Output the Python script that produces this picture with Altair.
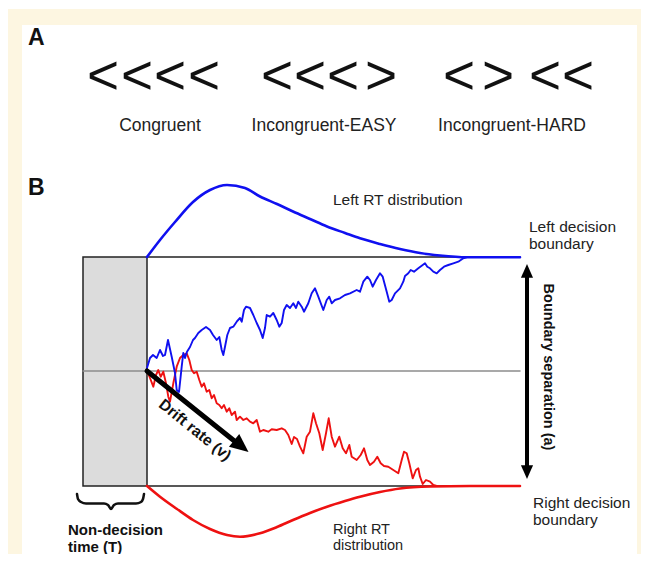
import altair as alt
import pandas as pd

# ---------------- data ----------------
blue_walk_x = [147,150,153,156.7,160,163,165,168,171.7,175,176.7,179,181.7,183.3,185,187,190,193,195,198.3,201.7,206,210,213,216.7,219.3,221.7,223.3,225,227.3,230,233.3,236.7,240,241.7,244,246,250,253.3,256.7,260,262.7,265,266.7,270,273.3,276.7,279.3,281.7,284,286.7,290,293.3,296,298.3,301.7,304,308.3,311.7,315,318.3,323.3,326.7,329.3,331.7,335,340,345,350,356.7,360,363.3,367.3,370,372.7,376,380,382.7,386.7,389.3,391.7,395,400,403.3,405,408.3,410.7,414,418.3,422.7,425,427.3,430,433.3,436.7,440,444,448.3,453.3,458.3,463.3,467]
blue_walk_y = [368,358,355,358,350,356,355,340,356.7,373,390,392,366.7,353,358,351.7,347,340,338,333,330,327,330,335,340,337,350,355,346.7,335,328,326.7,321.7,318,321.7,310,306.7,308,315,323,330,338,328,315,316.7,313,320,326.7,323,310,305,308,303.3,308,301.7,306.7,311.7,303.3,293.3,288.3,296.7,310,300,296.7,303.3,300,298.3,295,293.3,290,291.7,281.7,276.7,280,286.7,280,273.3,276.7,291.7,301.7,300,293.3,288.3,281.7,276,273.3,270,271.7,268.3,265,263.3,266.7,268.3,271.7,273.3,270,266.7,265,263.3,261.7,258.3,257]

red_walk_x = [147,150,153.3,156,158.3,160.7,163.3,166,168.3,170,173.3,176.7,180,183.3,186.7,189.3,191.7,194,196.7,199.3,201.7,204,206.7,209.3,211.7,214,216.7,219.3,221.7,224,226.7,229.3,231.7,235,236.7,240,243.3,246.7,250,253.3,256.7,260,263.3,268.3,271.7,276.7,281.7,285,288.3,291.7,294,297,300,303.3,306.7,310,313.3,316,319.3,322.7,326,328.7,331.7,335,339.3,342.7,346,349.3,351.7,356.7,360.7,364,367.3,370,374,377.3,380.7,384,388.3,393.3,398.3,401.7,404,406.7,409.3,412.7,416,418.3,420,422.7,426,430,433.3,436.7]
red_walk_y = [371,378,386.7,375,370,376.7,371.7,383.3,396.7,401.7,383.3,366.7,358,355,353.3,360,370,373.3,371.7,380,386.7,383.3,391.7,390,398.3,395,403.3,405,408.3,405,411.7,408.3,415,411.7,420,416.7,420,418.3,421.7,423.3,420,431.7,430,431.7,429.3,430,428.3,430,435,444,437,439,446.7,453.3,436.7,431.7,413.3,423.3,433.3,450,433.3,418.3,436.7,446.7,436.7,448.3,453.3,445,456.7,460,455,448.3,460,465,461.7,456.7,463.3,466,466.7,470,473.3,460,451.7,453.3,463.3,478.3,470,468.3,476.7,484,480,481.7,485,486]

left_rt_x = [147,160,175,193,210,227,245,260,277,293,310,327,345,360,380,400,420,440,467,520]
left_rt_y = [257,240,222,202,190,185,188,196.5,204,211.5,219,226.5,233,238.3,244,249,253,255.5,257.3,257.3]

right_rt_x = [147,160,177,193,210,227,240,260,277,293,310,327,345,360,380,400,430,470,520]
right_rt_y = [486,496.7,509,520,529,535,536.7,533.3,527,520,513,506.7,501,496.7,492,488.5,486.5,486,486]

brace_x = [77,78,81,86,104,108,111,114,118,136,141,143,144]
brace_y = [494,499,502,503.5,503.5,505,509,505,503.5,503.5,502,499,494]

chevron_chars = ["<","<","<","<", "<","<","<",">", "<",">","<","<"]
chevron_x = [103,137,170,204, 277,310,343,381, 459,498,545,578]

condition_labels = ["Congruent", "Incongruent-EASY", "Incongruent-HARD"]
condition_x = [160, 324, 512]

# ---------------- helpers ----------------
XS = alt.Scale(domain=[8, 641], nice=False, zero=False)
YS = alt.Scale(domain=[8, 554], reverse=True, nice=False, zero=False)
FONT = "Liberation Sans"


def X(f="x"):
    return alt.X(f"{f}:Q", scale=XS, axis=None)


def Y(f="y"):
    return alt.Y(f"{f}:Q", scale=YS, axis=None)


def line(xs, ys, color, width, interp="linear"):
    df = pd.DataFrame({"x": xs, "y": ys, "i": range(len(xs))})
    return alt.Chart(df).mark_line(color=color, strokeWidth=width, interpolate=interp,
                                   strokeJoin="round", strokeCap="round").encode(
        x=X(), y=Y(), order="i:Q")


def rect(x0, x1, y0, y1, fill, stroke=None, sw=0):
    df = pd.DataFrame({"x": [x0], "x2": [x1], "y": [y0], "y2": [y1]})
    kw = dict(color=fill)
    if stroke:
        kw.update(stroke=stroke, strokeWidth=sw)
    return alt.Chart(df).mark_rect(**kw).encode(x=X(), x2="x2:Q", y=Y(), y2="y2:Q")


def text(items, size, weight="normal", align="left", baseline="alphabetic", angle=0, color="#222222"):
    df = pd.DataFrame(items, columns=["x", "y", "t"])
    return alt.Chart(df).mark_text(fontSize=size, fontWeight=weight, align=align, baseline=baseline,
                                   angle=angle, font=FONT, color=color).encode(
        x=X(), y=Y(), text="t:N")


def head(x, y, angle, size, path="M0,0L-0.7,1.6L0.7,1.6Z"):
    df = pd.DataFrame({"x": [x], "y": [y]})
    return alt.Chart(df).mark_point(shape=path, size=size, filled=True, color="black",
                                    opacity=1, angle=angle, strokeWidth=0).encode(x=X(), y=Y())


layers = []
# background panels
layers.append(rect(8, 641, 9, 554, "#fdf6e1"))
layers.append(rect(22, 637, 25, 554, "#ffffff"))

# panel letters
layers.append(text([(28, 45, "A"), (28, 195, "B")], 23, weight="bold", color="#111111"))

# chevrons
layers.append(text(list(zip(chevron_x, [94] * len(chevron_x), chevron_chars)), 55, align="center",
                   color="#111111"))
layers.append(text(list(zip(condition_x, [131] * 3, condition_labels)), 17.5, align="center"))

# non-decision box
layers.append(rect(83, 147, 257, 486, "#dcdcdc", stroke="#222222", sw=1.5))
# boundaries
layers.append(line([83, 520], [371, 371], "#8c8c8c", 1.5))
layers.append(line([147, 520], [257, 257], "#222222", 1.5))
layers.append(line([147, 520], [486, 486], "#222222", 1.5))

# RT distributions
layers.append(line(left_rt_x, left_rt_y, "#1010f0", 2.6, "monotone"))
layers.append(line(right_rt_x, right_rt_y, "#ee1111", 2.6, "monotone"))

# random walks
layers.append(line(red_walk_x, red_walk_y, "#ee1111", 1.9))
layers.append(line(blue_walk_x, blue_walk_y, "#1010f0", 1.9))

# drift arrow
layers.append(line([147, 240], [371, 445.5], "black", 5))
layers.append(head(248.5, 452, 128.7, 420, "M0,0L-0.8,1.8L0.8,1.8Z"))
layers.append(text([(195, 430, "Drift rate (v)")], 15.5, weight="bold", align="center",
                   baseline="middle", angle=39, color="#111111"))

# boundary separation arrow
layers.append(line([527, 527], [275, 467], "black", 4))
layers.append(head(527, 264, 0, 300))
layers.append(head(527, 479, 180, 300))
layers.append(text([(548, 367, "Boundary separation (a)")], 14.5, weight="bold", align="center",
                   baseline="middle", angle=90, color="#111111"))

# brace
layers.append(line(brace_x, brace_y, "#111111", 2.5, "monotone"))

# labels
layers.append(text([(333, 205, "Left RT distribution"),
                    (529, 232, "Left decision"), (529, 249, "boundary"),
                    (533, 508, "Right decision"), (533, 525, "boundary")], 15.5))
layers.append(text([(333, 534, "Right RT"), (333, 550, "distribution")], 14.5))
layers.append(text([(68, 535, "Non-decision"), (68, 552, "time (T)")], 15, weight="bold",
                   color="#111111"))

chart = alt.layer(*layers).properties(
    width=633, height=546, padding=0, autosize="none", background="white"
).configure_view(stroke=None)

chart.save("out.html", embed_options={"renderer": "svg", "actions": False})
